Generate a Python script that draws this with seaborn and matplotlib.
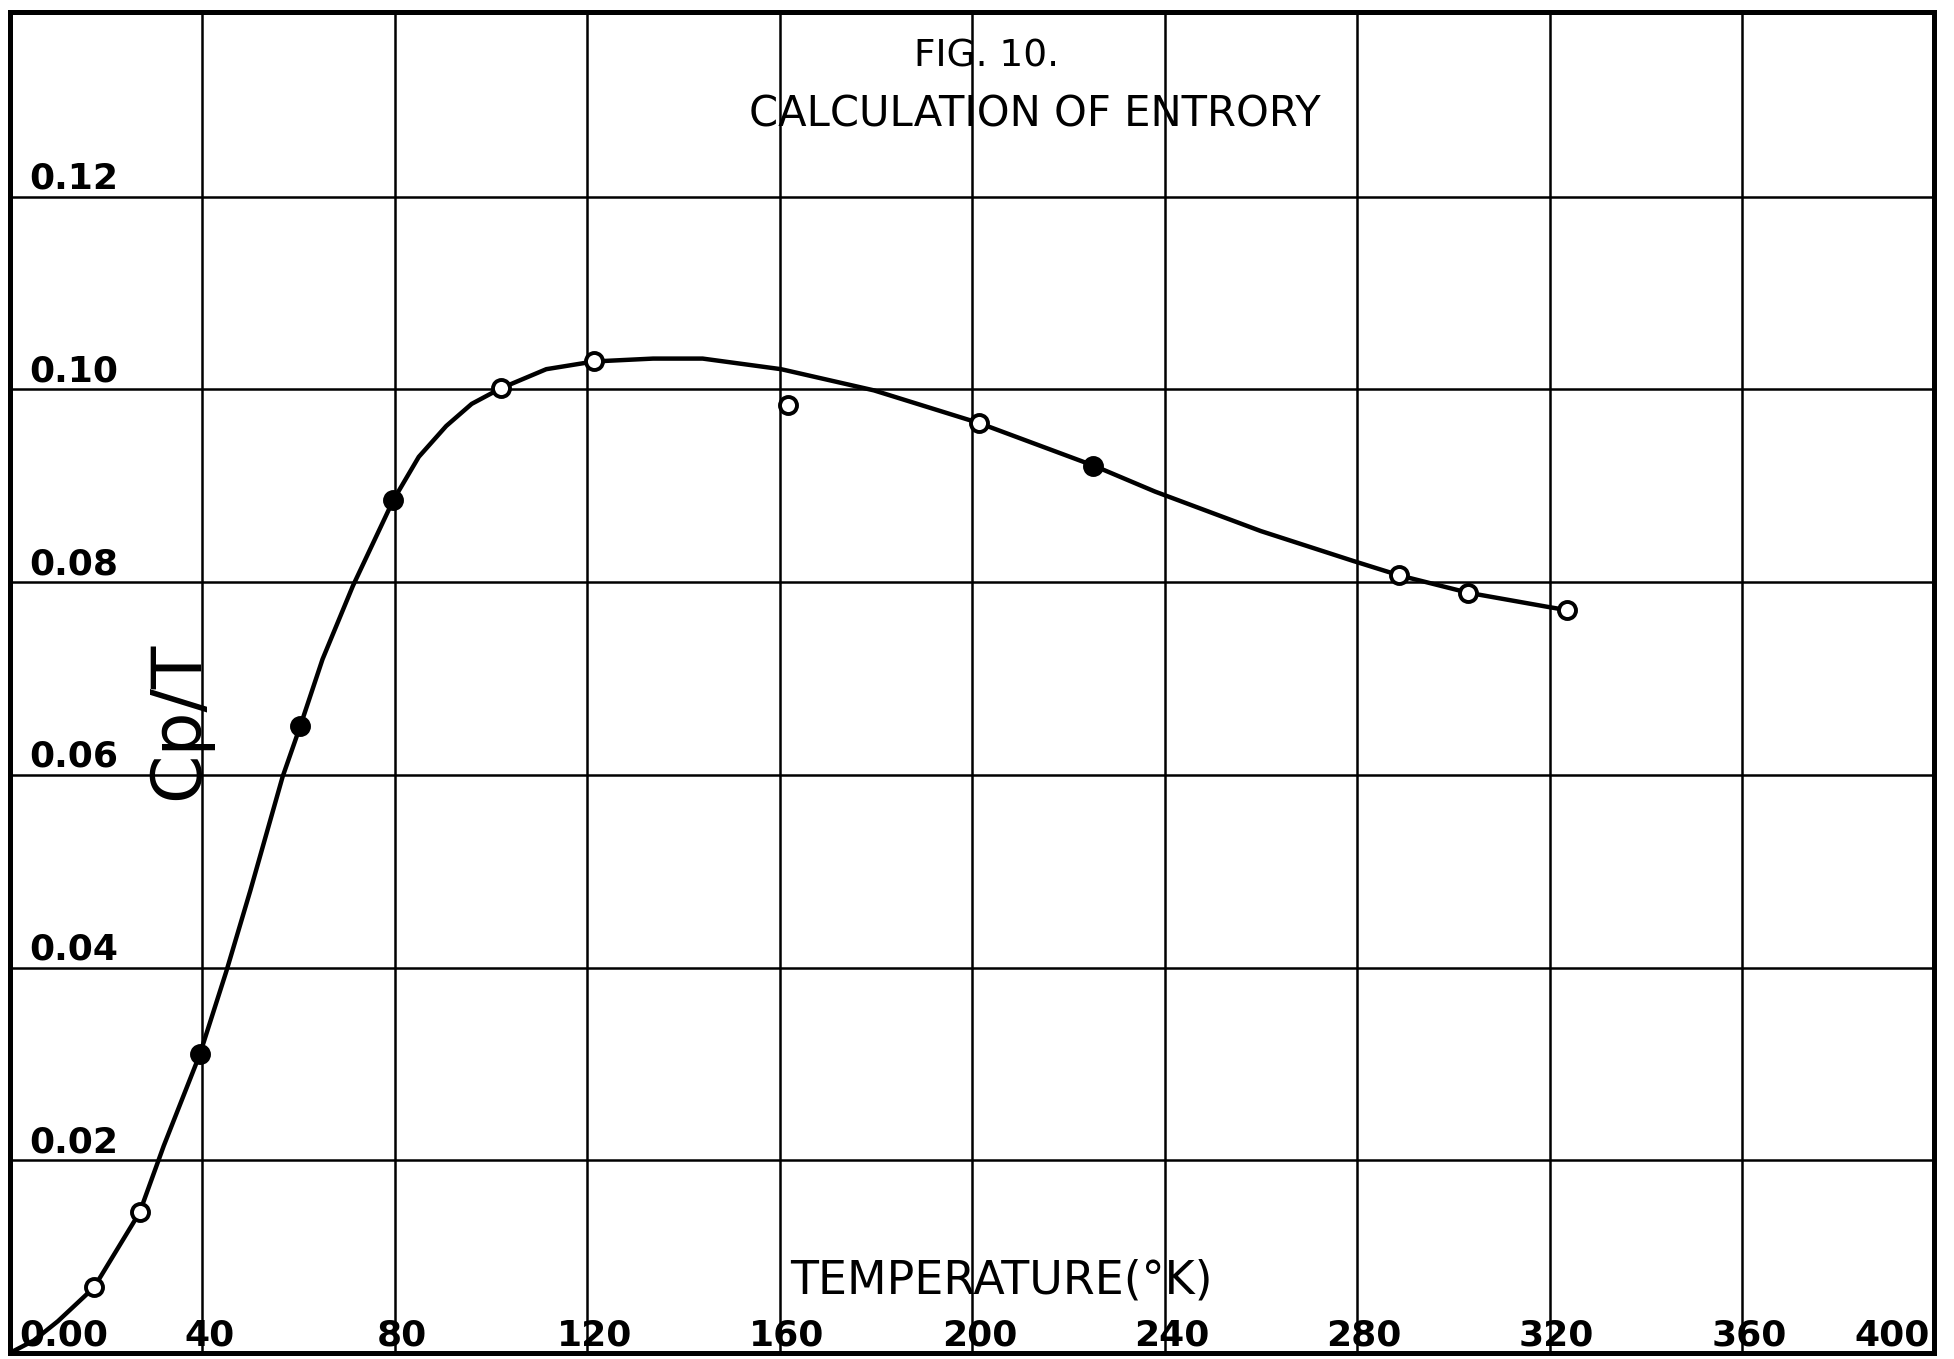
import numpy as np
import pandas as pd
import matplotlib
matplotlib.use('Agg')
import matplotlib.pyplot as plt
import seaborn as sns

# ---- data ----
# measured points (temperature in K, Cp/T)
temp_pts = [17.5, 27, 39.5, 60.4, 79.7, 102, 121.4, 161.7, 201.5, 225.2, 288.8, 303.1, 323.6]
cpt_pts = [0.0068, 0.0146, 0.0310, 0.0651, 0.0885, 0.1001, 0.1029, 0.0984, 0.0965, 0.0921, 0.0807, 0.0789, 0.0771]
pt_filled = [False, False, True, True, True, False, False, False, False, True, False, False, False]

# hand drawn smooth curve
temp_curve = [0, 5, 10, 17.5, 27, 32, 39.5, 45, 50, 56.7, 60.4, 65, 71.3, 79.7, 85, 90.7, 96,
              102, 111.5, 121.4, 133.7, 144, 160.3, 179.6, 201.5, 225.2, 238, 260, 279.2,
              288.8, 303.1, 320, 323.6]
cpt_curve = [0, 0.0013, 0.0033, 0.0068, 0.0146, 0.0215, 0.0310, 0.0396, 0.0480, 0.0598, 0.0651,
             0.0720, 0.0796, 0.0885, 0.0930, 0.0962, 0.0985, 0.1001, 0.1021, 0.1029, 0.1032,
             0.1032, 0.1021, 0.0999, 0.0965, 0.0921, 0.0894, 0.0853, 0.0822, 0.0807, 0.0789,
             0.0774, 0.0771]

x_ticks = [40, 80, 120, 160, 200, 240, 280, 320, 360, 400]
x_ticklabels = ['40', '80', '120', '160', '200', '240', '280', '320', '360', '400']
y_ticks = [0.02, 0.04, 0.06, 0.08, 0.10, 0.12]
y_ticklabels = ['0.02', '0.04', '0.06', '0.08', '0.10', '0.12']

pts = pd.DataFrame({'T': temp_pts, 'cpt': cpt_pts, 'filled': pt_filled})
curve = pd.DataFrame({'T': temp_curve, 'cpt': cpt_curve})

sns.set_style('white')
plt.rcParams['font.family'] = ['DejaVu Sans']

fig = plt.figure(figsize=(19.54, 13.59), dpi=100)
ax = fig.add_axes([0.005, 0.0044, 0.985, 0.987])

# grid
for xt in x_ticks[:-1]:
    ax.axvline(xt, color='black', lw=1.8, zorder=1)
for yt in y_ticks:
    ax.axhline(yt, color='black', lw=1.8, zorder=1)

sns.lineplot(data=curve, x='T', y='cpt', ax=ax, color='black', lw=3.2, sort=False, zorder=3)
sns.scatterplot(data=pts[~pts['filled']], x='T', y='cpt', ax=ax, s=150, facecolor='white',
                edgecolor='black', linewidth=2.8, zorder=4)
sns.scatterplot(data=pts[pts['filled']], x='T', y='cpt', ax=ax, s=150, color='black',
                edgecolor='black', linewidth=2.8, zorder=4)

ax.set_xlim(0, 400)
ax.set_ylim(0, 0.1392)
ax.set_xticks([])
ax.set_yticks([])
ax.set_xlabel('')
ax.set_ylabel('')
for sp in ax.spines.values():
    sp.set_visible(True)
    sp.set_color('black')
    sp.set_linewidth(3.6)

# tick labels written inside the frame, as on the original sheet
lab_kw = dict(fontsize=26, fontweight='bold', color='black', zorder=5)
for yt, lab in zip(y_ticks, y_ticklabels):
    ax.text(4, yt + 0.0001, lab, ha='left', va='bottom', **lab_kw)
ax.text(2, 0.0001, '0.00', ha='left', va='bottom', **lab_kw)
for xt, lab in zip(x_ticks, x_ticklabels):
    ha = 'right' if xt == 400 else 'center'
    pos = xt - 1 if xt == 400 else xt + 1.5
    ax.text(pos, 0.0001, lab, ha=ha, va='bottom', **lab_kw)

# titles and axis names
ax.text(203, 0.1346, 'FIG. 10.', ha='center', va='center', fontsize=27, color='black')
ax.text(213, 0.1285, 'CALCULATION OF ENTRORY', ha='center', va='center', fontsize=30, color='black')
ax.text(206, 0.0075, 'TEMPERATURE(°K)', ha='center', va='center', fontsize=33, color='black')
ax.text(35, 0.0656, 'Cp/T', rotation=90, ha='center', va='center', fontsize=50, color='black')

fig.savefig('out.png', dpi=100)
